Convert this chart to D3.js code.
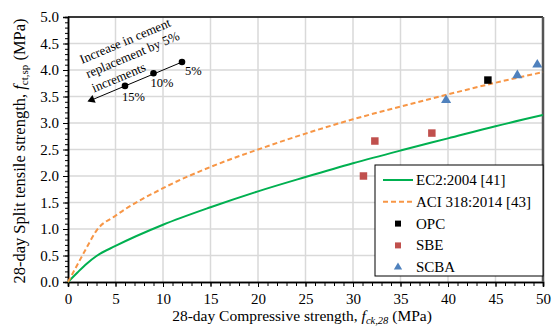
<!DOCTYPE html>
<html>
<head>
<meta charset="utf-8">
<script src="https://cdn.jsdelivr.net/npm/d3@7"></script>
<style>
  body { margin: 0; background: #fff; }
  svg text { font-family: 'Liberation Serif', 'Times New Roman', serif; fill: #000; }
</style>
</head>
<body>
<div id="canva"></div>
<script>
// curves
const ec2X = [0, 1, 2, 3, 5, 10, 15, 20, 25, 30, 35, 40, 45, 50];
const ec2Y = [0, 0.18, 0.35, 0.49, 0.68, 1.08, 1.41, 1.71, 1.98, 2.24, 2.48, 2.71, 2.94, 3.15];
const aciX = [0, 1, 2, 3, 5, 10, 15, 20, 25, 30, 35, 40, 45, 50];
const aciY = [0, 0.33, 0.66, 0.97, 1.25, 1.77, 2.17, 2.50, 2.80, 3.07, 3.31, 3.54, 3.76, 3.96];

// test results
const opcX = [44.2];
const opcY = [3.81];
const sbeX = [31.1, 32.3, 38.3];
const sbeY = [2.00, 2.66, 2.81];
const scbaX = [39.8, 47.3, 49.4];
const scbaY = [3.43, 3.90, 4.10];

// annotation arrow points
const arrowX = [12, 9, 6];
const arrowY = [4.15, 3.94, 3.70];
const arrowLabels = ['5%', '10%', '15%'];
const arrowTip = [2.3, 3.42];

const xTicks = [0, 5, 10, 15, 20, 25, 30, 35, 40, 45, 50];
const yTicks = [0, 0.5, 1, 1.5, 2, 2.5, 3, 3.5, 4, 4.5, 5];

const W = 554, H = 328;
const pLeft = 68, pRight = 543, pTop = 17, pBottom = 282;
const serif = "'Liberation Serif', 'Times New Roman', serif";

const svg = d3.select('#canva').append('svg')
    .attr('width', W)
    .attr('height', H)
    .attr('font-family', serif);

const x = d3.scaleLinear().domain([0, 50]).range([pLeft, pRight]);
const y = d3.scaleLinear().domain([0, 5]).range([pBottom, pTop]);

// grid
svg.append('g').selectAll('line')
    .data(xTicks.slice(1))
    .enter().append('line')
    .attr('x1', d => x(d)).attr('x2', d => x(d))
    .attr('y1', pTop).attr('y2', pBottom)
    .attr('stroke', '#d9d9d9').attr('stroke-width', 1.5);
svg.append('g').selectAll('line')
    .data(yTicks.slice(1))
    .enter().append('line')
    .attr('x1', pLeft).attr('x2', pRight)
    .attr('y1', d => y(d)).attr('y2', d => y(d))
    .attr('stroke', '#d9d9d9').attr('stroke-width', 1.5);

// axes
svg.append('g')
    .attr('transform', `translate(0,${pBottom})`)
    .call(d3.axisBottom(x).tickValues(xTicks).tickSize(5).tickPadding(6).tickFormat(d3.format('d')));
svg.append('g')
    .attr('transform', `translate(0,${pBottom})`)
    .call(d3.axisBottom(x).tickValues(d3.range(0, 51, 1)).tickSize(4).tickFormat(''));
svg.append('g')
    .attr('transform', `translate(${pLeft},0)`)
    .call(d3.axisLeft(y).tickValues(yTicks).tickSize(5).tickPadding(4).tickFormat(d3.format('.1f')));
svg.append('g')
    .attr('transform', `translate(${pLeft},0)`)
    .call(d3.axisLeft(y).tickValues(d3.range(0, 51, 1).map(d => d / 10)).tickSize(3).tickFormat(''));

svg.selectAll('.domain').attr('stroke', '#000').attr('stroke-width', 1.5);
svg.selectAll('.tick line').attr('stroke', '#000');
svg.selectAll('g').attr('font-family', serif);
svg.selectAll('.tick text')
    .attr('font-size', 15)
    .attr('fill', '#000');

// frame top and right
svg.append('line')
    .attr('x1', pLeft).attr('x2', pRight).attr('y1', pTop).attr('y2', pTop)
    .attr('stroke', '#000').attr('stroke-width', 1.5);
svg.append('line')
    .attr('x1', pRight).attr('x2', pRight).attr('y1', pTop).attr('y2', pBottom)
    .attr('stroke', '#555').attr('stroke-width', 2.5);

// curves
const line = d3.line()
    .x(d => x(d[0]))
    .y(d => y(d[1]))
    .curve(d3.curveMonotoneX);

svg.append('path')
    .datum(ec2X.map((d, i) => [d, ec2Y[i]]))
    .attr('d', line)
    .attr('fill', 'none')
    .attr('stroke', '#00b050')
    .attr('stroke-width', 2);

svg.append('path')
    .datum(aciX.map((d, i) => [d, aciY[i]]))
    .attr('d', line)
    .attr('fill', 'none')
    .attr('stroke', '#f79646')
    .attr('stroke-width', 2)
    .attr('stroke-dasharray', '5,3');

// markers
const square = d3.symbol().type(d3.symbolSquare).size(56);
const triangle = d3.symbol().type(d3.symbolTriangle).size(44);

svg.append('g').selectAll('path')
    .data(sbeX.map((d, i) => [d, sbeY[i]]))
    .enter().append('path')
    .attr('d', square)
    .attr('transform', d => `translate(${x(d[0])},${y(d[1])})`)
    .attr('fill', '#c0504d');

svg.append('g').selectAll('path')
    .data(opcX.map((d, i) => [d, opcY[i]]))
    .enter().append('path')
    .attr('d', square)
    .attr('transform', d => `translate(${x(d[0])},${y(d[1])})`)
    .attr('fill', '#000');

svg.append('g').selectAll('path')
    .data(scbaX.map((d, i) => [d, scbaY[i]]))
    .enter().append('path')
    .attr('d', triangle)
    .attr('transform', d => `translate(${x(d[0])},${y(d[1])})`)
    .attr('fill', '#4f81bd');

// annotation
svg.append('line')
    .attr('x1', x(arrowX[0])).attr('y1', y(arrowY[0]))
    .attr('x2', x(arrowTip[0])).attr('y2', y(arrowTip[1]))
    .attr('stroke', '#000').attr('stroke-width', 1);
const ang = Math.atan2(y(arrowTip[1]) - y(arrowY[0]), x(arrowTip[0]) - x(arrowX[0])) * 180 / Math.PI;
svg.append('path')
    .attr('d', d3.symbol().type(d3.symbolTriangle).size(30))
    .attr('transform', `translate(${x(arrowTip[0]) + 2},${y(arrowTip[1]) - 1}) rotate(${ang + 90})`)
    .attr('fill', '#000');

svg.append('g').selectAll('circle')
    .data(arrowX)
    .enter().append('circle')
    .attr('cx', d => x(d))
    .attr('cy', (d, i) => y(arrowY[i]))
    .attr('r', 3.3)
    .attr('fill', '#000');

const labelOff = [[3, 13], [-3, 14], [-3, 15]];
svg.append('g').selectAll('text')
    .data(arrowLabels)
    .enter().append('text')
    .attr('x', (d, i) => x(arrowX[i]) + labelOff[i][0])
    .attr('y', (d, i) => y(arrowY[i]) + labelOff[i][1])
    .attr('font-size', 12.5)
    .text(d => d);

const note = svg.append('g')
    .attr('transform', 'translate(82,64) rotate(-23)');
['Increase in cement', 'replacement by 5%', 'increments'].forEach((t, i) => {
    note.append('text')
        .attr('x', 0)
        .attr('y', i * 15.5)
        .attr('font-size', 13)
        .text(t);
});

// axis titles
const xTitle = svg.append('text')
    .attr('x', 302)
    .attr('y', 321)
    .attr('text-anchor', 'middle')
    .attr('font-size', 15.5);
xTitle.append('tspan').text('28-day Compressive strength, ');
xTitle.append('tspan').attr('font-style', 'italic').text('f');
xTitle.append('tspan').attr('font-style', 'italic').attr('font-size', 10.5).attr('dy', 3).text('ck,28');
xTitle.append('tspan').attr('dy', -3).text(' (MPa)');

const yTitle = svg.append('text')
    .attr('transform', `translate(25,151) rotate(-90)`)
    .attr('text-anchor', 'middle')
    .attr('font-size', 16.5);
yTitle.append('tspan').text('28-day Split tensile strength, ');
yTitle.append('tspan').attr('font-style', 'italic').text('f');
yTitle.append('tspan').attr('font-size', 11).attr('dy', 3).text('ct,sp');
yTitle.append('tspan').attr('dy', -3).text(' (MPa)');

// legend
const lg = svg.append('g').attr('transform', 'translate(375,165)');
lg.append('rect')
    .attr('width', 168).attr('height', 111)
    .attr('fill', '#fff').attr('stroke', '#000').attr('stroke-width', 1);

const legendItems = [
    { name: 'EC2:2004 [41]', kind: 'line', color: '#00b050' },
    { name: 'ACI 318:2014 [43]', kind: 'dash', color: '#f79646' },
    { name: 'OPC', kind: 'square', color: '#000' },
    { name: 'SBE', kind: 'square', color: '#c0504d' },
    { name: 'SCBA', kind: 'triangle', color: '#4f81bd' }
];

legendItems.forEach((it, i) => {
    const yy = 15 + i * 21.8;
    if (it.kind === 'line' || it.kind === 'dash') {
        lg.append('line')
            .attr('x1', 8).attr('x2', 38).attr('y1', yy).attr('y2', yy)
            .attr('stroke', it.color).attr('stroke-width', 2)
            .attr('stroke-dasharray', it.kind === 'dash' ? '5,3' : null);
    } else {
        lg.append('path')
            .attr('d', it.kind === 'square' ? d3.symbol().type(d3.symbolSquare).size(36) : d3.symbol().type(d3.symbolTriangle).size(30))
            .attr('transform', `translate(23,${yy})`)
            .attr('fill', it.color);
    }
    lg.append('text')
        .attr('x', 41)
        .attr('y', yy + 5)
        .attr('font-size', 15)
        .text(it.name);
});
</script>
</body>
</html>
